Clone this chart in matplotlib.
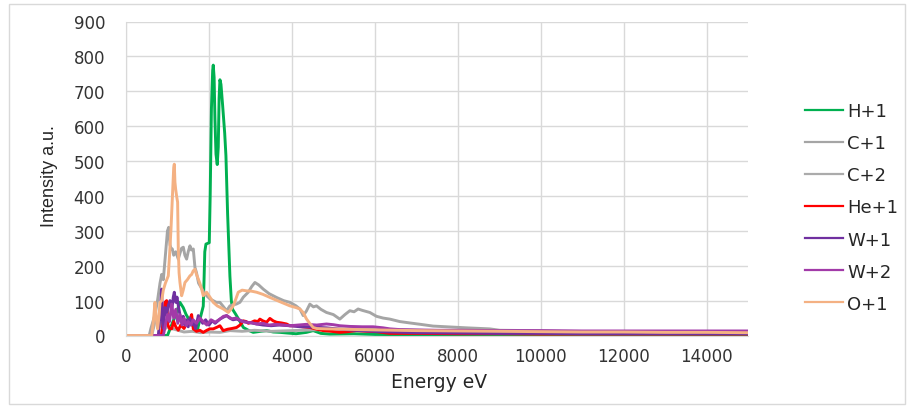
"""
Ion energy spectra (intensity vs energy) - line chart
"""

import matplotlib
matplotlib.use('Agg')
import matplotlib.pyplot as plt
from matplotlib.patches import Rectangle

# ---- data ----
series_names = ['H+1', 'C+1', 'C+2', 'He+1', 'W+1', 'W+2', 'O+1']
series_colors = ['#00B050', '#A5A5A5', '#ABABAB', '#FF0000', '#7030A0', '#A23AA8', '#F4B183']

h1_energy = [0, 1000, 1100, 1200, 1300, 1380, 1450, 1550, 1650, 1720, 1780, 1863, 1880, 1900, 1928,
             2008, 2030, 2060, 2090, 2104, 2125, 2145, 2170, 2200, 2225, 2245, 2265, 2290, 2330,
             2380, 2410, 2450, 2506, 2540, 2570, 2650, 2750, 2830, 2950, 3068, 3250, 3390, 3550,
             3711, 3900, 4100, 4354, 4514, 4700, 4916, 5500, 6000, 7000, 8000, 10000, 15000]
h1_intensity = [0, 0, 30, 60, 95, 80, 60, 40, 35, 15, 45, 84, 150, 240, 262,
                266, 400, 650, 760, 775, 740, 620, 520, 490, 540, 680, 733, 720, 660,
                580, 515, 350, 170, 100, 75, 60, 40, 23, 15, 9, 12, 14, 10,
                9, 7, 5, 9, 14, 6, 4, 5, 3, 2, 2, 1, 1]

c1_energy = [0, 560, 600, 650, 700, 760, 820, 860, 900, 950, 1000, 1030, 1060, 1090, 1117, 1150,
             1200, 1261, 1300, 1340, 1382, 1420, 1462, 1500, 1542, 1580, 1623, 1663, 1700, 1750,
             1800, 1870, 1944, 2024, 2100, 2180, 2265, 2340, 2426, 2506, 2580, 2660, 2747, 2830,
             2948, 3030, 3109, 3200, 3309, 3450, 3631, 3800, 3952, 4100, 4193, 4273, 4350, 4434,
             4520, 4594, 4700, 4835, 5000, 5157, 5280, 5398, 5500, 5598, 5700, 5880, 6040, 6200,
             6362, 6600, 6844, 7100, 7405, 7726, 8209, 8771, 9012, 9735, 10500, 11500, 12500,
             13500, 15000]
c1_intensity = [0, 0, 20, 40, 60, 100, 150, 175, 160, 230, 300, 310, 260, 248, 248, 230,
                240, 219, 235, 250, 253, 230, 219, 240, 257, 245, 248, 195, 180, 150,
                140, 125, 114, 105, 100, 95, 95, 84, 71, 85, 88, 90, 95, 110,
                124, 140, 152, 145, 133, 120, 109, 100, 95, 85, 76, 57, 70, 90,
                82, 85, 75, 66, 60, 47, 60, 71, 68, 76, 72, 66, 55, 50,
                47, 40, 36, 32, 27, 25, 22, 19, 15, 14, 12, 11, 10,
                9, 8]

c2_energy = [0, 620, 680, 720, 780, 850, 900, 1000, 1100, 1250, 1400, 1600, 1800, 2000, 2265,
             2506, 2800, 3100, 3500, 4000, 4500, 5000, 5500, 6000, 7000, 8000, 9000, 10000,
             12000, 15000]
c2_intensity = [0, 0, 30, 55, 20, 35, 15, 25, 20, 15, 10, 12, 8, 10, 9,
                14, 12, 15, 12, 14, 16, 18, 20, 18, 15, 12, 10, 9,
                8, 7]

he1_energy = [0, 850, 900, 940, 980, 1010, 1050, 1101, 1150, 1200, 1260, 1320, 1400, 1460, 1500,
              1542, 1583, 1623, 1700, 1780, 1863, 1950, 2020, 2104, 2200, 2265, 2345, 2450, 2550,
              2667, 2750, 2828, 2900, 2950, 3029, 3100, 3180, 3229, 3300, 3390, 3470, 3550, 3631,
              3750, 3872, 3952, 4113, 4250, 4434, 4600, 4755, 4950, 5157, 5350, 5558, 5800, 6040,
              6362, 7000, 8000, 9000, 10000, 11000, 12000, 13000, 14000, 15000]
he1_intensity = [0, 0, 40, 95, 100, 30, 20, 19, 40, 25, 15, 30, 20, 35, 30,
                 47, 60, 19, 12, 15, 9, 15, 19, 19, 24, 28, 14, 18, 20,
                 23, 30, 42, 40, 35, 38, 42, 40, 47, 42, 38, 49, 42, 38,
                 36, 33, 28, 28, 25, 23, 18, 14, 12, 9, 11, 14, 12, 11,
                 6, 6, 5, 5, 4, 4, 4, 4, 4, 4]

w1_energy = [0, 780, 820, 859, 880, 900, 940, 980, 1020, 1060, 1100, 1140, 1165, 1200, 1230,
             1261, 1300, 1342, 1380, 1420, 1460, 1500, 1540, 1580, 1623, 1680, 1743, 1783, 1850,
             1920, 2000, 2080, 2150, 2265, 2340, 2426, 2500, 2580, 2667, 2780, 2908, 3030, 3149,
             3300, 3500, 3700, 3952, 4200, 4500, 4835, 5157, 5500, 5960, 6362, 7000, 8000, 9000,
             10000, 11000, 12000, 13000, 14000, 15000]
w1_intensity = [0, 0, 60, 133, 40, 20, 80, 60, 86, 100, 70, 110, 124, 95, 110,
                86, 60, 38, 55, 30, 45, 25, 50, 30, 38, 20, 57, 47, 35,
                45, 30, 42, 35, 47, 52, 57, 50, 45, 47, 42, 38, 36, 33,
                30, 28, 30, 28, 25, 24, 22, 18, 15, 12, 10, 8, 7, 6,
                6, 5, 5, 5, 5, 5]

w2_energy = [0, 900, 950, 1000, 1050, 1100, 1150, 1200, 1250, 1300, 1350, 1400, 1450, 1500, 1560,
             1620, 1700, 1780, 1860, 1950, 2050, 2150, 2265, 2350, 2426, 2550, 2667, 2800, 2908,
             3050, 3149, 3300, 3450, 3600, 3800, 3952, 4150, 4350, 4600, 4835, 5000, 5157, 5400,
             5700, 5960, 6200, 6362, 6600, 7000, 7500, 8000, 9000, 10000, 11000, 12000, 13000,
             14000, 15000]
w2_intensity = [0, 0, 30, 60, 40, 90, 50, 75, 35, 60, 30, 50, 28, 40, 30,
                45, 35, 50, 40, 30, 45, 38, 47, 55, 57, 48, 50, 40, 38,
                36, 33, 35, 30, 32, 30, 28, 30, 32, 30, 33, 31, 28, 26,
                25, 25, 22, 19, 17, 16, 15, 15, 14, 14, 13, 13, 13,
                13, 13]

o1_energy = [0, 620, 660, 699, 730, 763, 800, 819, 860, 900, 950, 1000, 1020, 1050, 1085, 1120,
             1150, 1165, 1180, 1197, 1220, 1245, 1261, 1280, 1301, 1342, 1380, 1422, 1480, 1542,
             1583, 1620, 1663, 1700, 1743, 1780, 1824, 1863, 1944, 2024, 2104, 2200, 2345, 2420,
             2466, 2530, 2586, 2650, 2707, 2800, 2908, 3030, 3149, 3300, 3550, 3750, 3952, 4100,
             4193, 4273, 4354, 4430, 4514, 4600, 4835, 5200, 5600, 6000, 6500, 7000, 8000, 9000,
             10000, 11000, 12000, 13000, 14000, 15000]
o1_intensity = [0, 0, 40, 95, 50, 19, 60, 95, 100, 130, 150, 165, 171, 230, 305, 400,
                480, 491, 440, 420, 400, 382, 248, 180, 152, 114, 130, 152, 160, 171,
                175, 185, 190, 175, 162, 150, 133, 114, 124, 110, 95, 85, 76, 70,
                66, 75, 85, 105, 124, 130, 128, 127, 124, 118, 105, 95, 85, 80,
                76, 66, 47, 35, 23, 20, 19, 18, 17, 16, 15, 14, 13, 12,
                11, 10, 10, 9, 9, 8]

energies = [h1_energy, c1_energy, c2_energy, he1_energy, w1_energy, w2_energy, o1_energy]
intensities = [h1_intensity, c1_intensity, c2_intensity, he1_intensity,
               w1_intensity, w2_intensity, o1_intensity]

x_ticks = list(range(0, 14001, 2000))
y_ticks = list(range(0, 901, 100))

# ---- figure ----
W, H = 910, 410
fig = plt.figure(figsize=(W / 100, H / 100), dpi=100)
fig.patch.set_facecolor('white')

# light chart-area border
fig.add_artist(Rectangle((9 / W, 5 / H), (905 - 9) / W, (405 - 5) / H,
                         transform=fig.transFigure, fill=False,
                         edgecolor='#D9D9D9', linewidth=1))

ax = fig.add_axes([126 / W, 1 - 336.5 / H, (748 - 126) / W, (336.5 - 22.5) / H])

for e, i, name, col in zip(energies, intensities, series_names, series_colors):
    ax.plot(e, i, color=col, linewidth=2.1, label=name, solid_joinstyle='round')

ax.set_xlim(0, 15000)
ax.set_ylim(0, 900)
ax.set_xticks(x_ticks)
ax.set_yticks(y_ticks)
ax.tick_params(axis='both', length=0, labelsize=12, colors='#333333')
ax.tick_params(axis='y', pad=15)
ax.tick_params(axis='x', pad=8)

ax.grid(True, color='#D9D9D9', linewidth=1)
ax.set_axisbelow(True)
for s in ['top', 'right']:
    ax.spines[s].set_visible(False)
ax.spines['left'].set_color('#D9D9D9')
ax.spines['bottom'].set_color('#D9D9D9')

fig.text(50 / W, 1 - 176 / H, 'Intensity a.u.', rotation=90, ha='center', va='center',
         fontsize=13, family='Liberation Sans', color='#262626')
fig.text(439 / W, 1 - 383 / H, 'Energy eV', ha='center', va='center',
         fontsize=13.5, color='#262626')

leg = ax.legend(loc='center left', bbox_to_anchor=(805 / W, 1 - 208.5 / H),
                bbox_transform=fig.transFigure, frameon=False, fontsize=13,
                borderpad=0, borderaxespad=0, handlelength=2.1, handletextpad=0.25,
                labelspacing=0.78)
for line in leg.get_lines():
    line.set_linewidth(1.6)
for t in leg.get_texts():
    t.set_color('#262626')

fig.savefig('out.png', dpi=100, facecolor='white')
